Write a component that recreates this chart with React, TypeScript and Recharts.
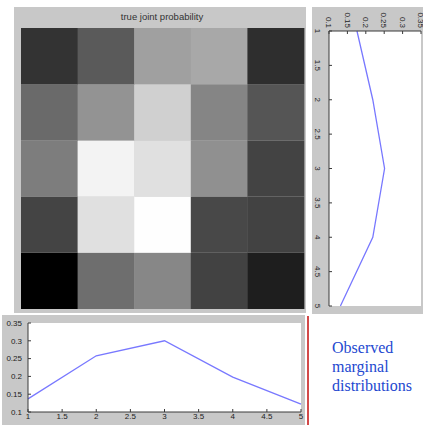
import { BarChart, Bar, Cell, XAxis, YAxis, LineChart, Line } from "recharts"

// heatmap columns and gray levels (0 = black, 255 = white), top row first
const COLS = [1, 2, 3, 4, 5]
const row1 = [51, 90, 160, 168, 46]
const row2 = [106, 147, 208, 133, 85]
const row3 = [125, 243, 224, 144, 67]
const row4 = [68, 224, 254, 72, 66]
const row5 = [0, 110, 135, 66, 30]

// marginals
const positions = [1, 2, 3, 4, 5]
const rowMarginal = [0.176, 0.219, 0.251, 0.219, 0.131]
const colMarginal = [0.137, 0.258, 0.3, 0.198, 0.122]

const posTicks = [1, 1.5, 2, 2.5, 3, 3.5, 4, 4.5, 5]
const probTicks = [0.1, 0.15, 0.2, 0.25, 0.3, 0.35]

const ROWS = [row1, row2, row3, row4, row5]
const PANEL = "#c8c8c8"
const AXIS = "#3a3a3a"
const LINE = "#7878ff"
const FONT = "'Liberation Sans', Arial, sans-serif"

const gray = (v: number) => `rgb(${v},${v},${v})`

const heatData = COLS.map((c) => {
  const d: Record<string, number> = { col: c }
  ROWS.forEach((_, r) => {
    d["r" + r] = 1
  })
  return d
})

type PlotProps = {
  values: number[]
  width: number
  height: number
  margin: { top: number; right: number; bottom: number; left: number }
  yWidth: number
  xHeight: number
  xTickMargin: number
  yTickMargin: number
}

function MarginalPlot({ values, width, height, margin, yWidth, xHeight, xTickMargin, yTickMargin }: PlotProps) {
  const data = positions.map((p, i) => ({ pos: p, prob: values[i] }))
  const tick = { fontSize: 8, fill: "#222", fontFamily: FONT }
  return (
    <LineChart width={width} height={height} data={data} margin={margin} style={{ background: PANEL }}>
      <rect x={margin.left + yWidth} y={margin.top} width={width - margin.left - margin.right - yWidth} height={height - margin.top - margin.bottom - xHeight} fill="#fff" />
      <XAxis
        dataKey="pos"
        type="number"
        domain={[1, 5]}
        ticks={posTicks}
        height={xHeight}
        tick={tick}
        tickSize={-3}
        tickMargin={xTickMargin}
        stroke={AXIS}
        interval={0}
      />
      <XAxis xAxisId="top" orientation="top" type="number" domain={[1, 5]} ticks={posTicks} height={0} tick={false} tickSize={-3} stroke={AXIS} interval={0} />
      <YAxis
        type="number"
        domain={[0.1, 0.35]}
        ticks={probTicks}
        width={yWidth}
        tick={tick}
        tickSize={-3}
        tickMargin={yTickMargin}
        stroke={AXIS}
        interval={0}
      />
      <YAxis yAxisId="right" orientation="right" type="number" domain={[0.1, 0.35]} ticks={probTicks} width={0} tick={false} tickSize={-3} stroke={AXIS} interval={0} />
      <Line dataKey="prob" stroke={LINE} strokeWidth={1.3} dot={false} isAnimationActive={false} />
    </LineChart>
  )
}

export default function App() {
  return (
    <div style={{ position: "absolute", left: 0, top: 0, width: 423, height: 425, background: "#fff", overflow: "hidden" }}>
      {/* joint probability */}
      <div style={{ position: "absolute", left: 14, top: 7, width: 292, height: 306, background: PANEL }}>
        <div style={{ position: "absolute", left: 0, top: 4, width: 296, textAlign: "center", fontFamily: FONT, fontSize: 9.5, color: "#333" }}>
          true joint probability
        </div>
        <BarChart width={292} height={306} data={heatData} margin={{ top: 21, right: 2, bottom: 4, left: 7 }} barCategoryGap={0} barGap={0}>
          <XAxis dataKey="col" hide />
          <YAxis type="number" domain={[0, 5]} hide />
          {[...ROWS.keys()].reverse().map((r) => (
            <Bar key={r} dataKey={"r" + r} stackId="a" isAnimationActive={false}>
              {COLS.map((c, i) => (
                <Cell key={c} fill={gray(ROWS[r][i])} />
              ))}
            </Bar>
          ))}
        </BarChart>
      </div>

      {/* row marginal, rotated */}
      <div style={{ position: "absolute", left: 423, top: 7, width: 307, height: 111, transformOrigin: "0 0", transform: "rotate(90deg)" }}>
        <MarginalPlot
          values={rowMarginal}
          width={307}
          height={111}
          margin={{ top: 2, right: 8, bottom: 0, left: 0 }}
          yWidth={24}
          xHeight={17}
          xTickMargin={11}
          yTickMargin={6}
        />
      </div>

      {/* column marginal */}
      <div style={{ position: "absolute", left: 2, top: 315, width: 303, height: 110 }}>
        <MarginalPlot
          values={colMarginal}
          width={303}
          height={110}
          margin={{ top: 8, right: 4, bottom: 0, left: 0 }}
          yWidth={26}
          xHeight={13}
          xTickMargin={4}
          yTickMargin={9}
        />
      </div>

      <div style={{ position: "absolute", left: 307, top: 316, width: 1.5, height: 109, background: "#d24a4a" }} />

      <div style={{ position: "absolute", left: 332, top: 338, fontFamily: "'Liberation Serif', 'Times New Roman', serif", fontSize: 16, lineHeight: "19px", color: "#2348d0" }}>
        Observed
        <br />
        marginal
        <br />
        distributions
      </div>
    </div>
  )
}
